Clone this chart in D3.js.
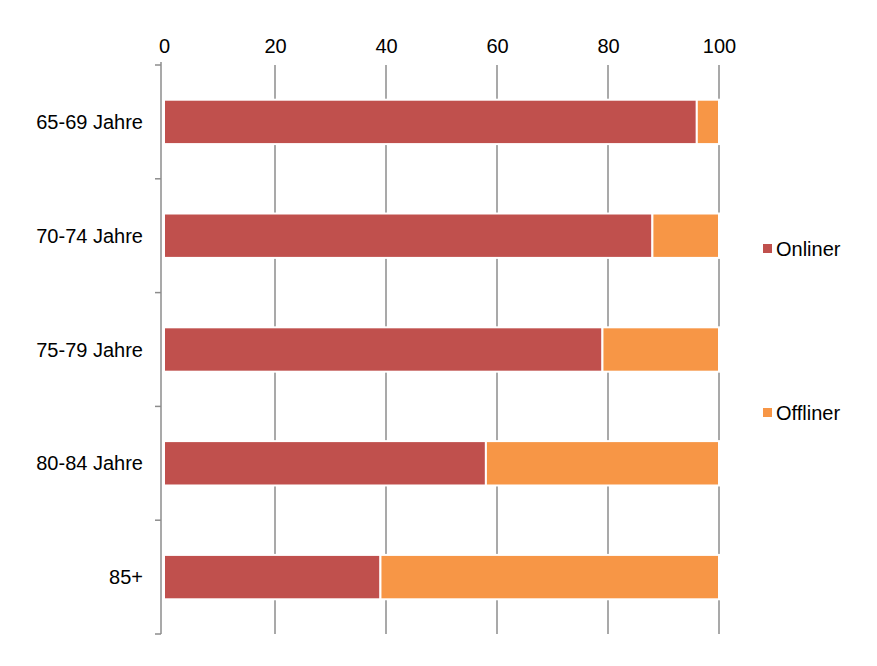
<!DOCTYPE html>
<html><head><meta charset="utf-8">
<script src="https://cdn.jsdelivr.net/npm/d3@7"></script>
<style>body{margin:0;background:#fff}text{font-family:"Liberation Sans",Arial,sans-serif}</style>
</head><body>
<svg id="c" width="877" height="666"></svg>
<script>
var categories = ["65-69 Jahre", "70-74 Jahre", "75-79 Jahre", "80-84 Jahre", "85+"];
var onliner = [96, 88, 79, 58, 39];
var offliner = [4, 12, 21, 42, 61];
var seriesNames = ["Onliner", "Offliner"];
var colors = ["#c0504d", "#f79646"];
var ticks = [0, 20, 40, 60, 80, 100];

var svg = d3.select("#c");
var x = d3.scaleLinear().domain([0, 100]).range([164, 719]);
var y = d3.scaleBand().domain(categories).range([65, 634]).paddingInner(0.61).paddingOuter(0.305);

// grid
svg.append("g").selectAll("line").data(ticks.slice(1)).join("line")
  .attr("x1", function (d) { return x(d); }).attr("x2", function (d) { return x(d); })
  .attr("y1", 65).attr("y2", 634).attr("stroke", "#8c8c8c").attr("stroke-width", 1.5);

// top axis
var topAxis = svg.append("g").attr("transform", "translate(0,65)")
  .call(d3.axisTop(x).tickValues(ticks).tickSize(0).tickPadding(12));
topAxis.select(".domain").remove();
topAxis.selectAll("text").style("font-size", "20px").attr("fill", "#000");

// stacked bars
var rows = categories.map(function (c, i) { return {cat: c, on: onliner[i], off: offliner[i]}; });
var stack = d3.stack().keys(["on", "off"])(rows);
svg.append("g").selectAll("g").data(stack).join("g")
  .attr("fill", function (d, i) { return colors[i]; })
  .selectAll("rect").data(function (d) { return d; }).join("rect")
  .attr("x", function (d) { return x(d[0]); })
  .attr("width", function (d) { return x(d[1]) - x(d[0]); })
  .attr("y", function (d) { return y(d.data.cat); })
  .attr("height", y.bandwidth())
  .attr("stroke", "#fff").attr("stroke-width", 2);

// left axis
svg.append("line").attr("x1", 161).attr("x2", 161).attr("y1", 62).attr("y2", 634)
  .attr("stroke", "#8c8c8c").attr("stroke-width", 1.5);
var bounds = d3.range(categories.length + 1).map(function (i) { return 65 + i * y.step(); });
svg.append("g").selectAll("line").data(bounds).join("line")
  .attr("x1", 155).attr("x2", 161)
  .attr("y1", function (d) { return d; }).attr("y2", function (d) { return d; })
  .attr("stroke", "#8c8c8c").attr("stroke-width", 1.5);
svg.append("g").selectAll("text").data(categories).join("text")
  .attr("x", 143).attr("y", function (d) { return y(d) + y.bandwidth() / 2; })
  .attr("dy", "0.35em").attr("text-anchor", "end").style("font-size", "20px").text(function (d) { return d; });

// legend
var lg = svg.append("g").selectAll("g").data(seriesNames).join("g")
  .attr("transform", function (d, i) { return "translate(763," + (i === 0 ? 249 : 413) + ")"; });
lg.append("rect").attr("x", 0).attr("y", -5).attr("width", 9).attr("height", 9)
  .attr("fill", function (d, i) { return colors[i]; });
lg.append("text").attr("x", 13).attr("dy", "0.35em").style("font-size", "20px").text(function (d) { return d; });
</script>
</body></html>
